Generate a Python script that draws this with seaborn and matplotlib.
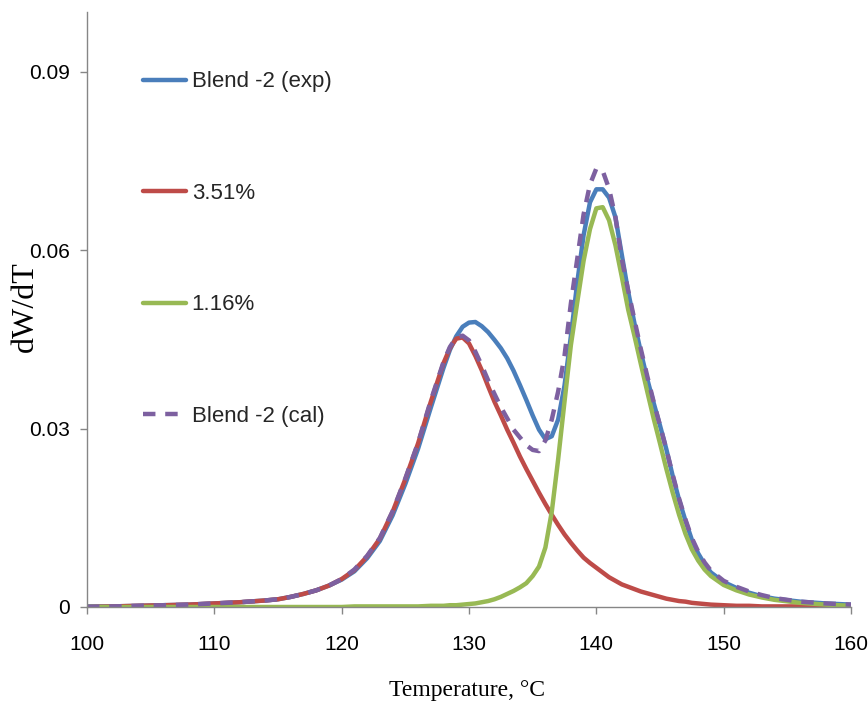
import matplotlib
matplotlib.use("Agg")
import matplotlib.pyplot as plt
import seaborn as sns
import pandas as pd

# Temperature grid (°C)
temperature = [100, 102, 104, 106, 108, 110, 112, 114, 115, 116, 117, 118, 119, 120,
               121, 122, 123, 124, 125, 126, 127, 128, 128.5, 129, 129.5, 130, 130.5,
               131, 131.5, 132, 132.5, 133, 133.5, 134, 134.5, 135, 135.5, 136, 136.5,
               137, 137.5, 138, 138.5, 139, 139.5, 140, 140.5, 141, 141.5, 142, 142.5,
               143, 143.5, 144, 144.5, 145, 145.5, 146, 146.5, 147, 147.5, 148, 148.5,
               149, 150, 151, 152, 153, 154, 156, 158, 160]

# Measured blend curve
blend_exp = [0.0001, 0.0001, 0.0002, 0.0003, 0.0004, 0.0006, 0.0008, 0.0011, 0.0013, 0.0017,
             0.0022, 0.0028, 0.0036, 0.0046, 0.0060, 0.0082, 0.0111, 0.0154, 0.0207, 0.0266,
             0.0335, 0.0402, 0.0432, 0.0455, 0.0471, 0.0478, 0.0479, 0.0472, 0.0462, 0.0449,
             0.0435, 0.0418, 0.0397, 0.0373, 0.0348, 0.0322, 0.0298, 0.0282, 0.0287, 0.0315,
             0.0372, 0.0455, 0.0545, 0.0625, 0.0680, 0.0702, 0.0702, 0.0688, 0.0655, 0.0592,
             0.0530, 0.0476, 0.0428, 0.0383, 0.0343, 0.0305, 0.0265, 0.0220, 0.0180, 0.0145,
             0.0113, 0.0090, 0.0072, 0.0058, 0.0042, 0.0032, 0.0024, 0.0018, 0.0014, 0.0009,
             0.0006, 0.0004]

# Component at 3.51%
comp_351 = [0.0000, 0.0001, 0.0002, 0.0003, 0.0004, 0.0006, 0.0008, 0.0011, 0.0013, 0.0017,
            0.0022, 0.0028, 0.0036, 0.0047, 0.0062, 0.0085, 0.0115, 0.0160, 0.0215, 0.0275,
            0.0345, 0.0410, 0.0435, 0.0451, 0.0453, 0.0443, 0.0422, 0.0398, 0.0371, 0.0345,
            0.0322, 0.0298, 0.0276, 0.0253, 0.0232, 0.0212, 0.0192, 0.0173, 0.0155, 0.0138,
            0.0122, 0.0108, 0.0095, 0.0083, 0.0074, 0.0066, 0.0058, 0.0050, 0.0044, 0.0038,
            0.0034, 0.0030, 0.0026, 0.0023, 0.0020, 0.0017, 0.0014, 0.0012, 0.0010, 0.0009,
            0.0007, 0.0006, 0.0005, 0.0004, 0.0003, 0.0002, 0.0002, 0.0001, 0.0001, 0.0001,
            0.0000, 0.0000]

# Component at 1.16%
comp_116 = [0.0000, 0.0000, 0.0000, 0.0000, 0.0000, 0.0000, 0.0000, 0.0000, 0.0000, 0.0000,
            0.0000, 0.0000, 0.0000, 0.0000, 0.0001, 0.0001, 0.0001, 0.0001, 0.0001, 0.0001,
            0.0002, 0.0002, 0.0003, 0.0003, 0.0004, 0.0005, 0.0006, 0.0008, 0.0010, 0.0013,
            0.0017, 0.0022, 0.0027, 0.0033, 0.0040, 0.0052, 0.0068, 0.0100, 0.0160, 0.0248,
            0.0345, 0.0440, 0.0512, 0.0582, 0.0635, 0.0670, 0.0672, 0.0650, 0.0608, 0.0555,
            0.0500, 0.0455, 0.0408, 0.0362, 0.0317, 0.0275, 0.0232, 0.0192, 0.0155, 0.0123,
            0.0097, 0.0078, 0.0063, 0.0052, 0.0037, 0.0028, 0.0021, 0.0016, 0.0012, 0.0007,
            0.0004, 0.0002]

# Calculated blend curve
blend_cal = [0.0000, 0.0001, 0.0002, 0.0003, 0.0004, 0.0006, 0.0008, 0.0011, 0.0013, 0.0017,
             0.0022, 0.0028, 0.0036, 0.0047, 0.0063, 0.0086, 0.0116, 0.0161, 0.0216, 0.0276,
             0.0347, 0.0412, 0.0437, 0.0453, 0.0456, 0.0448, 0.0429, 0.0406, 0.0381, 0.0358,
             0.0336, 0.0317, 0.0298, 0.0285, 0.0272, 0.0264, 0.0262, 0.0280, 0.0315, 0.0362,
             0.0422, 0.0510, 0.0585, 0.0660, 0.0710, 0.0737, 0.0733, 0.0703, 0.0655, 0.0585,
             0.0532, 0.0482, 0.0433, 0.0388, 0.0345, 0.0305, 0.0265, 0.0222, 0.0182, 0.0147,
             0.0116, 0.0093, 0.0075, 0.0061, 0.0044, 0.0034, 0.0026, 0.0020, 0.0015, 0.0009,
             0.0006, 0.0004]

series_labels = ["Blend -2 (exp)", "3.51%", "1.16%", "Blend -2 (cal)"]
series_values = [blend_exp, comp_351, comp_116, blend_cal]
series_colors = ["#4A7EBB", "#BE4B48", "#98B954", "#7D60A0"]

x_ticks = [100, 110, 120, 130, 140, 150, 160]
y_ticks = [0, 0.03, 0.06, 0.09]
y_tick_labels = ["0", "0.03", "0.06", "0.09"]

sns.set_theme(style="white")
sans = ["Liberation Sans Narrow", "Liberation Sans", "DejaVu Sans"]
serif = ["Liberation Serif", "DejaVu Serif"]
plt.rcParams["font.family"] = sans

fig = plt.figure(figsize=(8.68, 7.04), dpi=100)
ax = fig.add_axes([87 / 868, 97 / 704, 764 / 868, 595 / 704])

for label, values, color in zip(series_labels, series_values, series_colors):
    df = pd.DataFrame({"T": temperature, "v": values})
    line_kw = dict(color=color, linewidth=3.2, label=label, ax=ax,
                   estimator=None, sort=False)
    if label.endswith("(cal)"):
        sns.lineplot(data=df, x="T", y="v", dashes=False, **line_kw)
        ax.lines[-1].set_dashes((2.8, 2.2))
        ax.lines[-1].set_dash_capstyle("butt")
    else:
        sns.lineplot(data=df, x="T", y="v", **line_kw)
        ax.lines[-1].set_solid_capstyle("round")
    ax.lines[-1].set_solid_joinstyle("round")

ax.set_xlim(100, 160)
ax.set_ylim(0, 0.1)
ax.set_xticks(x_ticks)
ax.set_xticklabels([str(t) for t in x_ticks])
ax.set_yticks(y_ticks)
ax.set_yticklabels(y_tick_labels)

axis_color = "#868686"
for side in ("top", "right"):
    ax.spines[side].set_visible(False)
for side in ("left", "bottom"):
    ax.spines[side].set_color(axis_color)
    ax.spines[side].set_linewidth(1.0)

ax.tick_params(axis="both", which="major", direction="out", length=5,
               width=1.0, color=axis_color, labelsize=15, labelcolor="black",
               left=True, bottom=True)
ax.tick_params(axis="y", pad=7)
ax.tick_params(axis="x", pad=15)

ax.set_xlabel("Temperature, \u00b0C", fontsize=17, family=serif, color="black")
ax.set_ylabel("dW/dT", fontsize=23, family=serif, color="black")
ax.xaxis.set_label_coords(0.497, -0.123)
ax.yaxis.set_label_coords(-0.062, 0.505)

leg = ax.legend(loc="upper left", bbox_to_anchor=(0.073, 0.90), frameon=False,
                fontsize=16, handlelength=1.95, handletextpad=0.25,
                labelspacing=4.07, borderpad=0, borderaxespad=0)

fig.savefig("out.png", dpi=100, facecolor="white")
